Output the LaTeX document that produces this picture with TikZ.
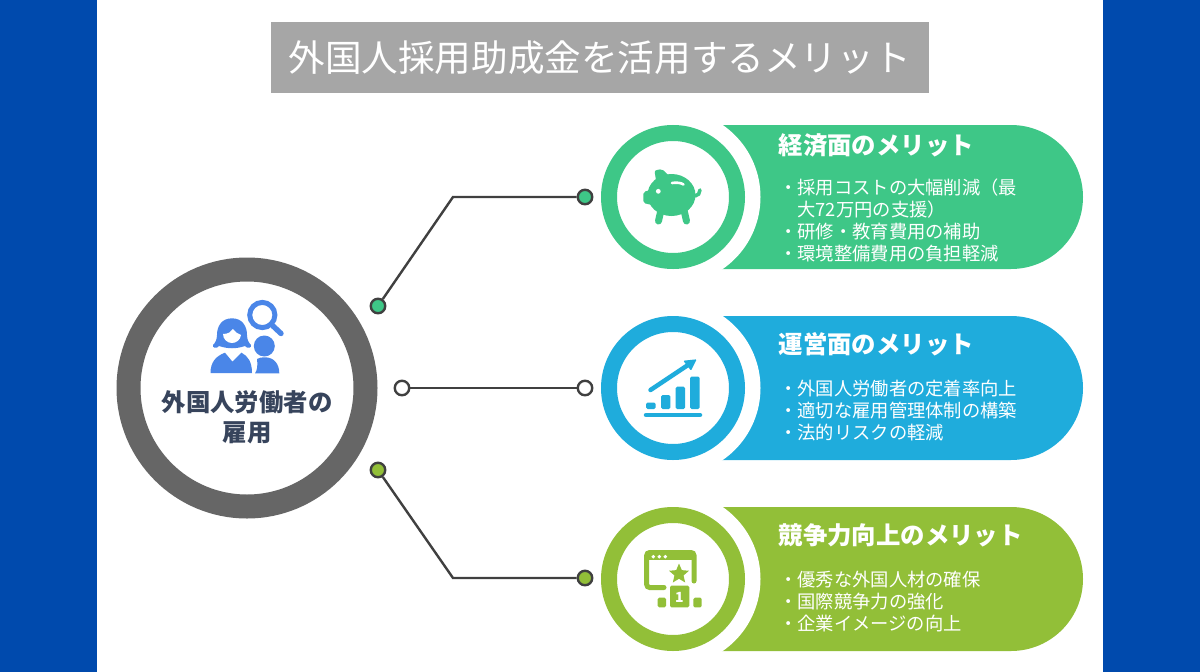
\documentclass[tikz,border=0pt]{standalone}
\usepackage{fontspec}
\setmainfont{Noto Sans CJK JP}
\usepackage{tikz}
\usetikzlibrary{calc,positioning,shapes.misc,shapes.geometric}
\definecolor{sideblue}{HTML}{004AAD}
\definecolor{titlegray}{HTML}{A6A6A6}
\definecolor{ringgray}{HTML}{666666}
\definecolor{wiregray}{HTML}{404040}
\definecolor{inkblue}{HTML}{37445C}
\definecolor{iconblue}{HTML}{4A86E8}
\definecolor{costgreen}{HTML}{3EC787}
\definecolor{opsblue}{HTML}{1FACDC}
\definecolor{compolive}{HTML}{92BF38}
\tikzset{
    ring/.style={
    circle,inner sep=0pt,fill=white,draw=#1
    },
    pill/.style={
    rounded rectangle,rounded rectangle west arc=none,inner sep=0pt,
    minimum width=383pt,minimum height=144pt,fill=#1
    },
    gap/.style={
    circle,inner sep=0pt,minimum size=175pt,fill=white
    },
    dot/.style={
    circle,inner sep=0pt,minimum size=14.5pt,line width=2.4pt,draw=wiregray,fill=#1
    },
    wire/.style={
    draw=wiregray,line width=2.4pt
    },
    headline/.style={
    anchor=west,inner sep=0pt,text=white,font=\fontsize{24.4}{28}\selectfont\bfseries
    },
    points/.style={
    anchor=west,inner sep=0pt,text=white,align=left,font=\fontsize{18.3}{22}\selectfont
    },
}
\begin{document}
\begin{tikzpicture}[x=1pt,y=-1pt]
   \useasboundingbox (0,0) rectangle (1200,672);
   \fill[sideblue] (0,0) rectangle (97,672);
   \fill[sideblue] (1103,0) rectangle (1200,672);

   \node[fill=titlegray,inner sep=0pt,minimum width=658pt,minimum height=71pt] (TITLE) at (599.5,57.5) {};
   \node[text=white,inner sep=0pt,font=\fontsize{36.6}{40}\selectfont] (TITLETXT) at (599.5,57.5) {外国人採用助成金を活用するメリット};

   % left hub
   \node[ring=ringgray,line width=24pt,minimum size=237pt] (HUB) at (247,388) {};
   \node[text=inkblue,align=center,inner sep=0pt,font=\fontsize{24.4}{30}\selectfont\bfseries] (HUBTXT) at (247,417) {外国人労働者の\\雇用};

   % three rows
   \node[pill=costgreen] (COST) at (891.5,197) {};
   \node[gap] (COSTGAP) at (673,197) {};
   \node[ring=costgreen,line width=16pt,minimum size=128pt] (COSTRING) at (673,197) {};
   \node[pill=opsblue] (OPS) at (891.5,388) {};
   \node[gap] (OPSGAP) at (673,388) {};
   \node[ring=opsblue,line width=16pt,minimum size=128pt] (OPSRING) at (673,388) {};
   \node[pill=compolive] (COMP) at (891.5,579) {};
   \node[gap] (COMPGAP) at (673,579) {};
   \node[ring=compolive,line width=16pt,minimum size=128pt] (COMPRING) at (673,579) {};

   \node[headline] (COSTHEAD) at (778.5,145) {経済面のメリット};
   \node[points] (COSTTXT) at (779,220.5) {・採用コストの大幅削減（最\\　大72万円の支援）\\・研修・教育費用の補助\\・環境整備費用の負担軽減};
   \node[headline] (OPSHEAD) at (778.5,344) {運営面のメリット};
   \node[points] (OPSTXT) at (779,410.5) {・外国人労働者の定着率向上\\・適切な雇用管理体制の構築\\・法的リスクの軽減};
   \node[headline] (COMPHEAD) at (778.5,535) {競争力向上のメリット};
   \node[points] (COMPTXT) at (779,601.5) {・優秀な外国人材の確保\\・国際競争力の強化\\・企業イメージの向上};

   % connectors
   \node[dot=costgreen] (A1) at (378,306) {};
   \node[dot=white]     (B1) at (402,388) {};
   \node[dot=compolive] (C1) at (378,470) {};
   \node[dot=costgreen] (A2) at (585,197) {};
   \node[dot=white]     (B2) at (585,388) {};
   \node[dot=compolive] (C2) at (585,578) {};
   \coordinate (AK) at (453,197);
   \coordinate (CK) at (453,578);
   \draw[wire] (A1) -- (AK) -- (A2);
   \draw[wire] (B1) -- (B2);
   \draw[wire] (C1) -- (CK) -- (C2);

   % people icon
   \fill[iconblue] (232,318.3) .. controls (243,318.3) and (247,327) .. (247,335)
      .. controls (247,340) and (249,343) .. (251,345)
      .. controls (252,348) and (247,349) .. (245,346)
      .. controls (236,349) and (228,349) .. (219,346)
      .. controls (217,349) and (212,348) .. (213,345)
      .. controls (215,343) and (217,340) .. (217,335)
      .. controls (217,327) and (221,318.3) .. (232,318.3) -- cycle;
   \fill[white] (223,334) .. controls (228,334) and (231,332) .. (233,329)
      .. controls (235,332) and (238,334) .. (241,335)
      .. controls (240.5,340) and (236,343) .. (232,343)
      .. controls (227,343) and (223,339) .. (223,334) -- cycle;
   \fill[iconblue] (210.5,373) .. controls (210.5,362) and (216,356) .. (225,352.7)
      -- (232.5,361.7) -- (241.5,352.7) .. controls (248,356) and (252,362) .. (252,373) -- cycle;
   \fill[iconblue] (264.3,346) circle (10.5pt);
   \fill[iconblue] (255,373.3) .. controls (257,371) and (258,365) .. (257,359)
      .. controls (259,357.5) and (262,357.3) .. (265,357.3)
      .. controls (274,357.3) and (279.3,364) .. (279.3,373.3) -- cycle;
   \draw[iconblue,line width=5pt] (262.3,315) circle (12.6pt);
   \draw[iconblue,line width=5.4pt,line cap=round] (273,326) -- (281,333.5);

   % piggy icon
   \fill[costgreen] (671.5,195) ellipse (24pt and 21pt);
   \fill[costgreen,rounded corners=2pt] (654.5,170.5) -- (662,169) -- (671,178) -- (657,187) -- cycle;
   \fill[costgreen,rounded corners=2pt] (643.3,192) -- (652,189.5) -- (652,205) -- (643.3,203) -- cycle;
   \draw[costgreen,line width=3.6pt,line cap=round] (695,196) .. controls (698,196) and (700,193) .. (700,190);
   \draw[costgreen,line width=7pt,line cap=round] (661,210) -- (658.5,221);
   \draw[costgreen,line width=7pt,line cap=round] (684,210) -- (686.5,221);
   \fill[white] (658.3,191.3) circle (2.4pt);
   \draw[white,line width=2.6pt,line cap=round] (672,183) .. controls (676,182.3) and (681,182.7) .. (683.5,184.5);

   % chart icon
   \fill[opsblue,rounded corners=1.5pt] (646,409) rectangle (655.7,402.7);
   \fill[opsblue,rounded corners=1.5pt] (661,409) rectangle (670.3,395);
   \fill[opsblue,rounded corners=1.5pt] (675.7,409) rectangle (685,386.7);
   \fill[opsblue,rounded corners=1.5pt] (690,409) rectangle (699.7,376.7);
   \draw[opsblue,line width=4.5pt,line cap=round] (646,415) -- (700,415);
   \draw[opsblue,line width=4.5pt,line cap=round] (650.5,390) -- (688,365);
   \fill[opsblue,rounded corners=1pt] (696.7,359.3) -- (683.3,360.7) -- (691,370.7) -- cycle;

   % ranking icon
   \draw[compolive,line width=5pt,line cap=round,rounded corners=3pt] (664,587.5) -- (646.7,587.5) -- (646.7,552.5) -- (694,552.5) -- (694,581);
   \fill[compolive] (646.7,552) rectangle (694,560);
   \foreach \dx in {653.3,659.3,665.3}
      \fill[white] (\dx,556.7) circle (1.9pt);
   \node[star,star points=5,star point ratio=2.2,fill=compolive,inner sep=0pt,minimum size=21pt] (STAR) at (679,574) {};
   \fill[compolive,rounded corners=1.5pt] (670,607.3) rectangle (689.3,585.7);
   \fill[compolive,rounded corners=1.5pt] (657.7,607.3) rectangle (666,597.7);
   \fill[compolive,rounded corners=1.5pt] (693.3,607.3) rectangle (701.7,597.7);
   \node[text=white,inner sep=0pt,font=\fontsize{14}{14}\selectfont\bfseries] (RANK) at (679.5,597) {1};
\end{tikzpicture}
\end{document}
